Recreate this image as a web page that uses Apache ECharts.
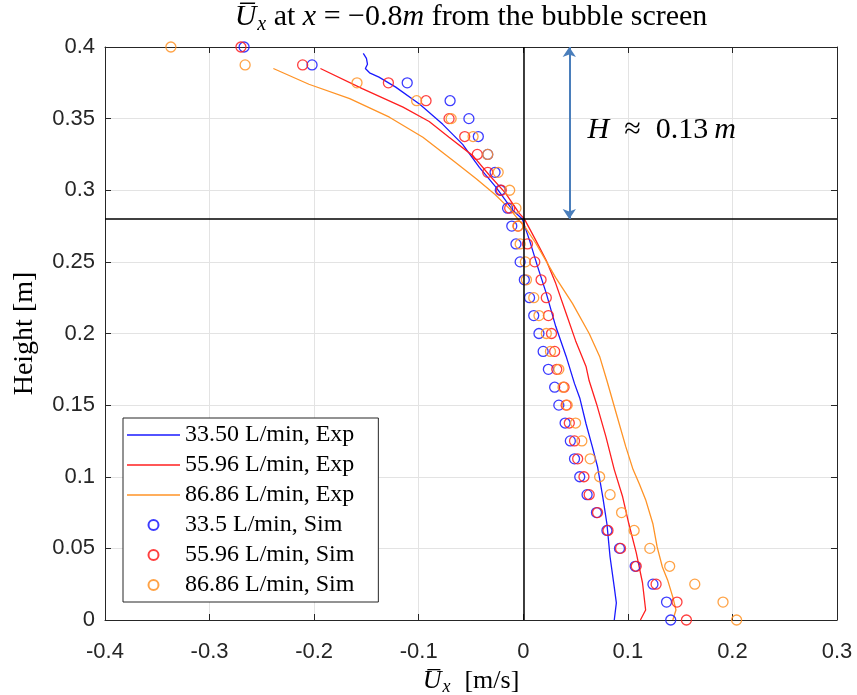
<!DOCTYPE html>
<html>
<head>
<meta charset="utf-8">
<script src="https://cdn.jsdelivr.net/npm/echarts@6/dist/echarts.min.js"></script>
<style>
  html, body { margin: 0; padding: 0; background: #ffffff; }
  #chart { width: 857px; height: 695px; }
</style>
</head>
<body>
<div id="chart"></div>
<script>
// Axis ranges and ticks
const xTicks = { min: -0.4, max: 0.3, interval: 0.1 };
const yTicks = { min: 0, max: 0.4, interval: 0.05 };

// Heights (m) at which the simulated profiles are sampled
const simHeights = [0, 0.0125, 0.025, 0.0375, 0.05, 0.0625, 0.075, 0.0875, 0.1, 0.1125,
  0.125, 0.1375, 0.15, 0.1625, 0.175, 0.1875, 0.2, 0.2125, 0.225, 0.2375, 0.25, 0.2625,
  0.275, 0.2875, 0.3, 0.3125, 0.325, 0.3375, 0.35, 0.3625, 0.375, 0.3875, 0.4];

// Simulated mean horizontal velocity (m/s) at each height
const sim335 = [0.141, 0.137, 0.124, 0.107, 0.092, 0.080, 0.070, 0.061, 0.054, 0.049,
  0.045, 0.040, 0.034, 0.030, 0.024, 0.019, 0.015, 0.010, 0.006, 0.001, -0.003, -0.007,
  -0.011, -0.015, -0.022, -0.027, -0.034, -0.043, -0.052, -0.070, -0.111, -0.202, -0.267];
const sim5596 = [0.156, 0.147, 0.127, 0.108, 0.093, 0.081, 0.071, 0.063, 0.058, 0.052,
  0.049, 0.044, 0.041, 0.039, 0.032, 0.030, 0.027, 0.024, 0.022, 0.017, 0.011, 0.004,
  -0.005, -0.013, -0.021, -0.034, -0.044, -0.056, -0.071, -0.093, -0.129, -0.211, -0.270];
const sim8686 = [0.204, 0.191, 0.164, 0.140, 0.121, 0.106, 0.094, 0.083, 0.073, 0.064,
  0.056, 0.050, 0.042, 0.038, 0.034, 0.026, 0.022, 0.015, 0.010, 0.003, 0.002, -0.003,
  -0.005, -0.007, -0.013, -0.024, -0.034, -0.048, -0.069, -0.102, -0.159, -0.266, -0.337];

// Measured profiles: [velocity (m/s), height (m)], bottom to top
const exp3350 = [[0.087, 0.0], [0.089, 0.012], [0.087, 0.023], [0.083, 0.044], [0.080, 0.067],
  [0.076, 0.086], [0.071, 0.107], [0.066, 0.121], [0.060, 0.137], [0.054, 0.155],
  [0.049, 0.165], [0.041, 0.184], [0.031, 0.205], [0.022, 0.228], [0.014, 0.246],
  [0.006, 0.265], [-0.001, 0.280], [-0.010, 0.286], [-0.026, 0.302], [-0.042, 0.316],
  [-0.058, 0.332], [-0.077, 0.346], [-0.099, 0.360], [-0.122, 0.372], [-0.138, 0.379],
  [-0.147, 0.382], [-0.151, 0.385], [-0.149, 0.388], [-0.150, 0.392], [-0.153, 0.3956]];
const exp5596 = [[0.112, 0.0], [0.117, 0.007], [0.114, 0.026], [0.108, 0.047], [0.101, 0.067],
  [0.095, 0.086], [0.087, 0.105], [0.079, 0.128], [0.070, 0.151], [0.063, 0.167],
  [0.060, 0.177], [0.050, 0.195], [0.041, 0.214], [0.031, 0.235], [0.022, 0.251],
  [0.012, 0.265], [0.001, 0.280], [-0.004, 0.284], [-0.017, 0.298], [-0.033, 0.311],
  [-0.048, 0.324], [-0.071, 0.337], [-0.090, 0.348], [-0.115, 0.358], [-0.154, 0.371],
  [-0.194, 0.385]];
const exp8686 = [[0.143, 0.0], [0.146, 0.007], [0.143, 0.016], [0.138, 0.028], [0.133, 0.037],
  [0.128, 0.051], [0.124, 0.067], [0.117, 0.084], [0.111, 0.095], [0.105, 0.105],
  [0.098, 0.121], [0.089, 0.144], [0.080, 0.167], [0.073, 0.184], [0.063, 0.200],
  [0.047, 0.221], [0.031, 0.239], [0.012, 0.263], [0.002, 0.274], [-0.004, 0.279],
  [-0.013, 0.287], [-0.027, 0.297], [-0.045, 0.308], [-0.066, 0.320], [-0.096, 0.337],
  [-0.128, 0.351], [-0.166, 0.364], [-0.205, 0.374], [-0.239, 0.385]];

// Series names shown in the legend
const expNames = ['33.50 L/min, Exp', '55.96 L/min, Exp', '86.86 L/min, Exp'];
const simNames = ['33.5 L/min, Sim', '55.96 L/min, Sim', '86.86 L/min, Sim'];

// Reference lines: zero velocity, bubble-plume interface height, and the marked layer
const zeroVelocity = 0;
const interfaceHeight = 0.28;
const layerArrow = { x: 0.044, top: 0.4, bottom: 0.28 };
const layerLabelAt = [0.061, 0.342];

const colors = ['#1a1aff', '#ff1f1f', '#ff9326'];
const serif = 'Liberation Serif';
const sans = 'Liberation Sans';
const ink = '#262626';

const simData = [sim335, sim5596, sim8686].map(xs => xs.map((x, i) => [x, simHeights[i]]));
const expData = [exp3350, exp5596, exp8686];

function mathRich(size, subSize) {
  const base = { fontFamily: serif, fontSize: size, color: '#000', lineHeight: size + 4, verticalAlign: 'middle' };
  return {
    u: Object.assign({}, base, { fontStyle: 'italic' }),
    i: Object.assign({}, base, { fontStyle: 'italic' }),
    n: Object.assign({}, base),
    w: Object.assign({}, base, { padding: [0, 0, 0, 14] }),
    s: { fontFamily: serif, fontSize: subSize, fontStyle: 'italic', color: '#000',
         verticalAlign: 'bottom', padding: [Math.round(size * 0.5), 0, 0, 1] }
  };
}

const chart = echarts.init(document.getElementById('chart'), null, { renderer: 'canvas' });

const series = [];
expData.forEach((d, k) => {
  series.push({
    name: expNames[k], type: 'line', data: d, xAxisIndex: 0, yAxisIndex: 0,
    symbol: 'none', showSymbol: false, smooth: false, z: 3,
    lineStyle: { color: colors[k], width: 1.3 }, itemStyle: { color: colors[k] },
    emphasis: { disabled: true }, silent: true
  });
});
simData.forEach((d, k) => {
  series.push({
    name: simNames[k], type: 'scatter', data: d, xAxisIndex: 0, yAxisIndex: 0,
    symbol: 'circle', symbolSize: 10, z: 4,
    itemStyle: { color: 'rgba(0,0,0,0)', borderColor: colors[k], borderWidth: 1.3, opacity: 0.85 },
    emphasis: { disabled: true }, silent: true
  });
});

// Black reference lines at zero velocity and at the interface height
series[0].markLine = {
  silent: true, symbol: 'none', animation: false,
  label: { show: false },
  lineStyle: { color: '#000', width: 1.5, type: 'solid' },
  emphasis: { disabled: true },
  data: [{ xAxis: zeroVelocity }, { yAxis: interfaceHeight }]
};
// Double arrow marking the upper layer, with its label
series[1].markLine = {
  silent: true, symbol: ['arrow', 'arrow'], symbolSize: [10, 10], animation: false,
  label: { show: false },
  lineStyle: { color: '#4a7ebb', width: 2, type: 'solid' },
  emphasis: { disabled: true },
  data: [[{ coord: [layerArrow.x, layerArrow.top] }, { coord: [layerArrow.x, layerArrow.bottom] }]]
};
series[1].markPoint = {
  silent: true, animation: false, symbol: 'circle', symbolSize: 1,
  itemStyle: { color: 'rgba(0,0,0,0)' },
  data: [{ coord: layerLabelAt }],
  label: {
    show: true, position: 'right', distance: 0,
    formatter: '{i|H}{n|\u2002\u2248\u20020.13\u2009}{i|m}',
    rich: {
      i: { fontFamily: serif, fontStyle: 'italic', fontSize: 30, color: '#000' },
      n: { fontFamily: serif, fontSize: 30, color: '#000' }
    }
  }
};

const axisCommon = {
  type: 'value',
  axisLine: { show: true, onZero: false, lineStyle: { color: ink, width: 1 } },
  axisTick: { show: true, inside: true, length: 6, lineStyle: { color: ink, width: 1 } }
};

// Plain line icon for the measured series in the legend
const lineIcon = 'path://M0,0H53V1.3H0Z';

const option = {
  animation: false,
  backgroundColor: '#ffffff',
  grid: { left: 105, right: 20, top: 47, bottom: 75, containLabel: false, outerBoundsMode: 'none' },
  legend: {
    orient: 'vertical', left: 123, top: 418,
    padding: [5, 24, 5, 4], itemGap: 6, itemWidth: 53, itemHeight: 10,
    backgroundColor: '#ffffff', borderColor: ink, borderWidth: 1,
    selectedMode: false,
    textStyle: { fontFamily: serif, fontSize: 24, lineHeight: 24, color: '#000' },
    data: expNames.map(n => ({ name: n, icon: lineIcon })).concat(simNames.map(n => ({ name: n })))
  },
  xAxis: [
    Object.assign({}, axisCommon, {
      position: 'bottom', min: xTicks.min, max: xTicks.max, interval: xTicks.interval,
      splitLine: { show: true, lineStyle: { color: '#e3e3e3', width: 1 } },
      axisLabel: { fontFamily: sans, fontSize: 22, color: ink, margin: 21,
        formatter: v => String(+v.toFixed(1)) },
      name: '{u|U\u0305}{s|x}{w|[m/s]}', nameLocation: 'middle', nameGap: 44,
      nameTextStyle: { rich: mathRich(26, 18) }
    }),
    Object.assign({}, axisCommon, {
      position: 'top', min: xTicks.min, max: xTicks.max, interval: xTicks.interval,
      splitLine: { show: false }, axisLabel: { show: false },
      name: '{u|U\u0305}{s|x}{n| at }{i|x}{n| = \u22120.8}{i|m}{n| from the bubble screen}',
      nameLocation: 'middle', nameGap: 12,
      nameTextStyle: { rich: mathRich(30, 20) }
    })
  ],
  yAxis: [
    Object.assign({}, axisCommon, {
      position: 'left', min: yTicks.min, max: yTicks.max, interval: yTicks.interval,
      splitLine: { show: true, lineStyle: { color: '#e3e3e3', width: 1 } },
      axisLabel: { fontFamily: sans, fontSize: 22, color: ink, margin: 10,
        formatter: v => String(+v.toFixed(2)) },
      name: 'Height [m]', nameLocation: 'middle', nameGap: 66,
      nameTextStyle: { fontFamily: serif, fontSize: 28, color: '#000' }
    }),
    Object.assign({}, axisCommon, {
      position: 'right', min: yTicks.min, max: yTicks.max, interval: yTicks.interval,
      splitLine: { show: false }, axisLabel: { show: false }
    })
  ],
  series: series
};

chart.setOption(option);
</script>
</body>
</html>
